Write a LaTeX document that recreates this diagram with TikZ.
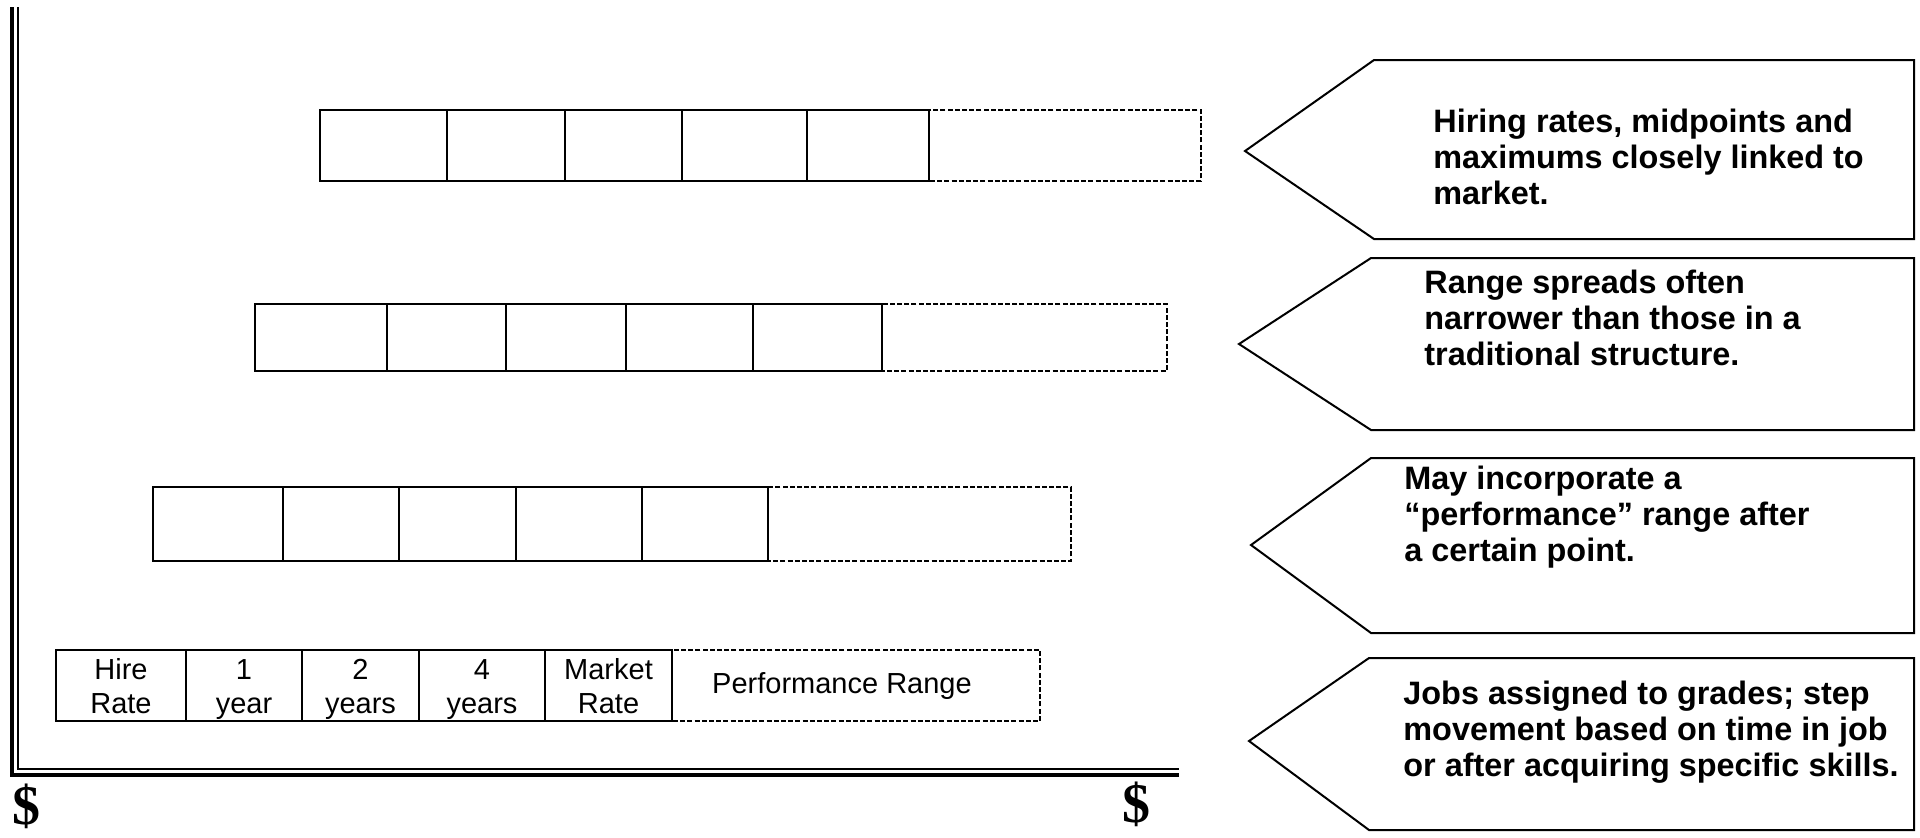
\documentclass[tikz,border=0pt]{standalone}
\usepackage{fontspec}
\setmainfont{Liberation Sans}
\newfontfamily\dollarfont{Liberation Serif}
\begin{document}
\begin{tikzpicture}[x=0.5pt,y=-0.5pt,
  cellbox/.style={draw=black,line width=1.1pt},
  perfbox/.style={draw=black,line width=1.2pt,dash pattern=on 2.5pt off 1.1pt},
  celltext/.style={font=\fontsize{14.5}{17}\selectfont,align=center,inner sep=0pt},
  callout/.style={draw=black,line width=1pt,line join=miter},
  callouttext/.style={font=\bfseries\fontsize{16.2}{18}\selectfont,align=left,anchor=west,inner sep=0pt},
  axisthick/.style={line width=2.2pt},
  axisthin/.style={line width=0.8pt},
  dollar/.style={font=\dollarfont\bfseries\fontsize{28}{28}\selectfont,inner sep=0pt}]
\useasboundingbox (0,0) rectangle (1920,837);
% axes
\coordinate (ytop) at (12,7);
\coordinate (orig) at (12,775);
\coordinate (xend) at (1179,775);
\draw[axisthick] (ytop) -- (orig) -- (xend);
\draw[axisthin] (18,7) -- (18,769) -- (1179,769);
\node[dollar] (d1) at (26,806) {\$};
\node[dollar] (d2) at (1136,804) {\$};
% row 1
\foreach \a/\b in {320/447,447/565,565/682,682/807,807/929}
  \draw[cellbox] (\a,110) rectangle (\b,181);
\draw[perfbox] (929,110) rectangle (1201,181);
% row 2
\foreach \a/\b in {255/387,387/506,506/626,626/753,753/882}
  \draw[cellbox] (\a,304) rectangle (\b,371);
\draw[perfbox] (882,304) rectangle (1167,371);
% row 3
\foreach \a/\b in {153/283,283/399,399/516,516/642,642/768}
  \draw[cellbox] (\a,487) rectangle (\b,561);
\draw[perfbox] (768,487) rectangle (1071,561);
% row 4
\foreach \a/\b in {56/186,186/302,302/419,419/545,545/672}
  \draw[cellbox] (\a,650) rectangle (\b,721);
\draw[perfbox] (672,650) rectangle (1040,721);
\node[celltext] (t1) at (121,690) {\strut Hire\\\strut Rate};
\node[celltext] (t2) at (244,690) {\strut 1\\\strut year};
\node[celltext] (t3) at (360.5,690) {\strut 2\\\strut years};
\node[celltext] (t4) at (482,690) {\strut 4\\\strut years};
\node[celltext] (t5) at (608.5,690) {\strut Market\\\strut Rate};
\node[celltext] (t6) at (842,686) {Performance Range};
% callouts
\draw[callout] (1914,60) -- (1374,60) -- (1245,151) -- (1374,239) -- (1914,239) -- cycle;
\node[callouttext] (c1) at (1433,157) {Hiring rates, midpoints and\\maximums closely linked to\\market.};
\draw[callout] (1914,258) -- (1371,258) -- (1239,344) -- (1371,430) -- (1914,430) -- cycle;
\node[callouttext] (c2) at (1424,318) {Range spreads often\\narrower than those in a\\traditional structure.};
\draw[callout] (1914,458) -- (1371,458) -- (1251,545) -- (1371,633) -- (1914,633) -- cycle;
\node[callouttext] (c3) at (1404,517) {May incorporate a\\``performance'' range after\\a certain point.};
\draw[callout] (1914,658) -- (1369,658) -- (1249,741) -- (1369,830) -- (1914,830) -- cycle;
\node[callouttext] (c4) at (1403,732) {Jobs assigned to grades; step\\movement based on time in job\\or after acquiring specific skills.};
\end{tikzpicture}
\end{document}
